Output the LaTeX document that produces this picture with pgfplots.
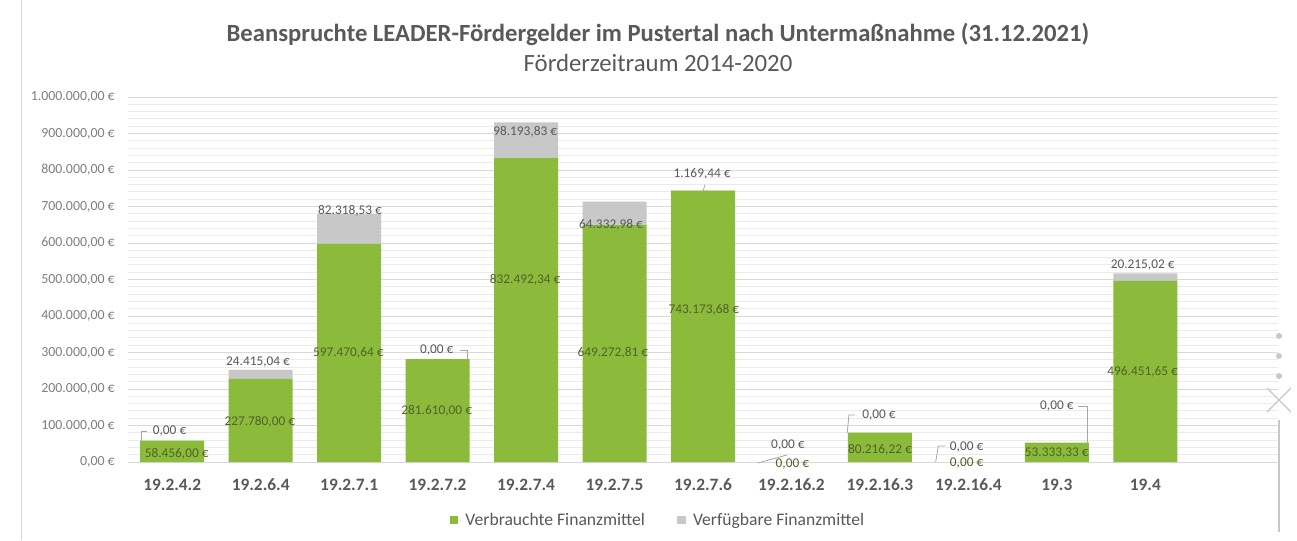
\documentclass[border=0pt]{standalone}
\usepackage{fontspec}
\setmainfont{Carlito}
\usepackage{pgfplots}
\pgfplotsset{compat=1.18}
\definecolor{barGreen}{HTML}{8CBB3C}
\definecolor{barGrey}{HTML}{C8C8C8}
\definecolor{txtGrey}{HTML}{595959}
\definecolor{tickGrey}{HTML}{7F7F7F}
\definecolor{lblGreen}{HTML}{4F6228}
\definecolor{lblGrey}{HTML}{595959}
\definecolor{majGrid}{HTML}{D9D9D9}
\definecolor{minGrid}{HTML}{EBEBEB}
\definecolor{leader}{HTML}{A6A6A6}
\newcommand{\gl}[3]{\node[text=lblGreen,font=\fontsize{10}{12}\selectfont,inner sep=0pt] at (axis cs:#1,#2) {#3};}
\newcommand{\rl}[3]{\node[text=lblGrey,font=\fontsize{10}{12}\selectfont,inner sep=0pt] at (axis cs:#1,#2) {#3};}
\pgfplotsset{samegeom/.style={at={(96pt,58.5pt)}, anchor=south west,
  scale only axis, width=862.5pt, height=273.75pt,
  xmin=-0.5, xmax=12.5, ymin=0, ymax=1000000, clip=false}}
\begin{document}
\begin{tikzpicture}
\useasboundingbox (0,0) rectangle (972.75pt,405pt);
\fill[white] (0,0) rectangle (972.75pt,405pt);
\draw[majGrid, line width=0.75pt] (15.75pt,0) -- (15.75pt,405pt);
\begin{axis}[
  samegeom,
  ybar stacked, bar width=48pt,
  xtick={0,...,11},
  xticklabels={19.2.4.2,19.2.6.4,19.2.7.1,19.2.7.2,19.2.7.4,19.2.7.5,19.2.7.6,19.2.16.2,19.2.16.3,19.2.16.4,19.3,19.4},
  ytick={0,100000,...,1000000},
  minor y tick num=4,
  ymajorgrids, yminorgrids,
  major grid style={majGrid, line width=0.75pt},
  minor grid style={minGrid, line width=0.75pt},
  axis line style={draw=none},
  tick style={draw=none},
  major tick length=0pt, minor tick length=0pt,
  scaled y ticks=false,
  yticklabel={\pgfmathprintnumber[fixed, fixed zerofill, precision=2, use comma, 1000 sep={.}, assume math mode=true]{\tick}~€},
  yticklabel style={anchor=east, xshift=-9.75pt, inner sep=0pt, text=tickGrey, font=\fontsize{10.4}{12}\selectfont},
  xticklabel style={anchor=center, yshift=-17.25pt, inner sep=0pt, text=txtGrey, font=\bfseries\fontsize{13}{15}\selectfont},
  legend style={at={(0.461,-0.159)}, anchor=center, draw=none, fill=none, legend columns=2,
    font=\fontsize{13.2}{15}\selectfont, text=txtGrey,
    /tikz/every even column/.append style={column sep=22pt}},
]
\addplot[fill=barGreen, draw=none, legend image code/.code={\fill[barGreen] (0pt,-3.2pt) rectangle (6.4pt,3.2pt); \path (0pt,0pt) -- (10pt,0pt);}]
  coordinates {(0,58456.00) (1,227780.00) (2,597470.64) (3,281610.00) (4,832492.34) (5,649272.81) (6,743173.68) (7,0) (8,80216.22) (9,0) (10,53333.33) (11,496451.65)};
\addplot[fill=barGrey, draw=none, legend image code/.code={\fill[barGrey] (0pt,-3.2pt) rectangle (6.4pt,3.2pt); \path (0pt,0pt) -- (10pt,0pt);}]
  coordinates {(0,0) (1,24415.04) (2,82318.53) (3,0) (4,98193.83) (5,64332.98) (6,1169.44) (7,0) (8,0) (9,0) (10,0) (11,20215.02)};
\legend{Verbrauchte Finanzmittel, Verfügbare Finanzmittel}
\end{axis}
\begin{axis}[samegeom, hide axis]
% green labels
\gl{0.05}{21900}{58.456,00 €}
\gl{0.99}{111000}{227.780,00 €}
\gl{1.99}{298600}{597.470,64 €}
\gl{2.99}{139700}{281.610,00 €}
\gl{3.99}{498600}{832.492,34 €}
\gl{4.98}{298600}{649.272,81 €}
\gl{6.01}{416400}{743.173,68 €}
\gl{7.01}{-5500}{0,00 €}
\gl{8.0}{32900}{80.216,22 €}
\gl{8.98}{-2700}{0,00 €}
\gl{10.0}{24700}{53.333,33 €}
\gl{10.97}{246600}{496.451,65 €}
% grey labels
\rl{-0.03}{84900}{0,00 €}
\rl{0.97}{274000}{24.415,04 €}
\rl{2.01}{687700}{82.318,53 €}
\rl{2.99}{306800}{0,00 €}
\rl{3.99}{904100}{98.193,83 €}
\rl{4.96}{649300}{64.332,98 €}
\rl{5.99}{789000}{1.169,44 €}
\rl{6.96}{46600}{0,00 €}
\rl{7.99}{128800}{0,00 €}
\rl{8.98}{41100}{0,00 €}
\rl{10.0}{153400}{0,00 €}
\rl{10.97}{539700}{20.215,02 €}
% leader lines
\draw[leader, line width=0.6pt] (axis cs:-0.353,57500) -- (axis cs:-0.353,84900) -- (axis cs:-0.285,84900);
\draw[leader, line width=0.6pt] (axis cs:3.25,306800) -- (axis cs:3.34,306800) -- (axis cs:3.34,282200);
\draw[leader, line width=0.6pt] (axis cs:6.0,739700) -- (axis cs:6.02,758900);
\draw[leader, line width=0.6pt] (axis cs:6.62,-2700) -- (axis cs:6.95,19200);
\draw[leader, line width=0.6pt] (axis cs:7.63,79500) -- (axis cs:7.65,128800) -- (axis cs:7.72,128800);
\draw[leader, line width=0.6pt] (axis cs:8.63,0) -- (axis cs:8.66,43800) -- (axis cs:8.74,43800);
\draw[leader, line width=0.6pt] (axis cs:10.24,153400) -- (axis cs:10.34,153400) -- (axis cs:10.34,52000);
\end{axis}
\node[font=\bfseries\fontsize{18.5}{22}\selectfont, text=txtGrey] at (493.5pt,379.5pt) {Beanspruchte LEADER-Fördergelder im Pustertal nach Untermaßnahme (31.12.2021)};
\node[font=\fontsize{18.6}{22}\selectfont, text=txtGrey] at (493.5pt,357.75pt) {Förderzeitraum 2014-2020};
% UI decorations at right edge
\fill[barGrey] (959.25pt,153pt) circle (2.25pt);
\fill[barGrey] (959.25pt,138pt) circle (2.25pt);
\fill[barGrey] (959.25pt,123pt) circle (2.25pt);
\draw[barGrey, line width=0.9pt] (950.25pt,96pt) -- (968.25pt,114pt) (950.25pt,114pt) -- (968.25pt,96pt);
\draw[barGrey, line width=1.2pt] (959.25pt,90pt) -- (959.25pt,6pt);
\end{tikzpicture}
\end{document}
